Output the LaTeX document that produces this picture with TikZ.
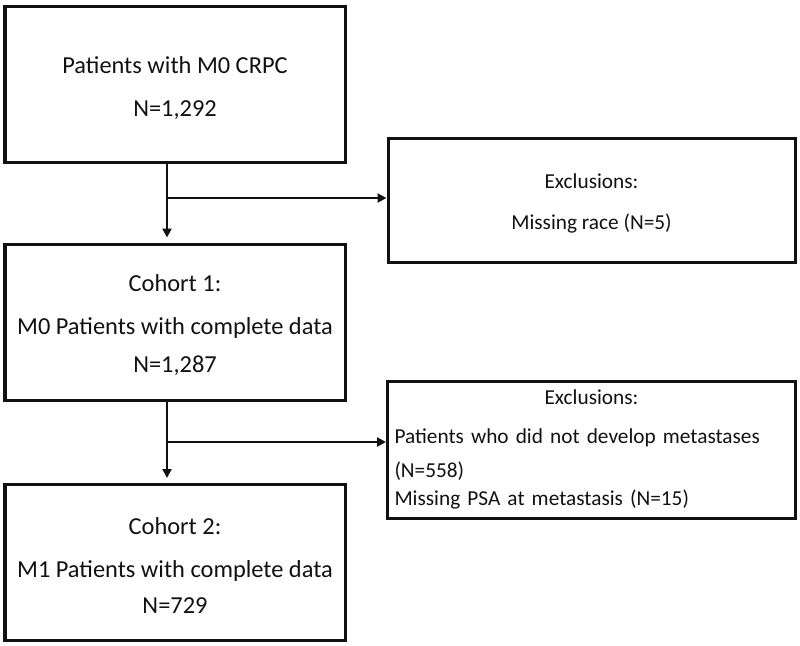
\documentclass[tikz,border=0pt]{standalone}
\usepackage{fontspec}
\setmainfont{Carlito}
\usepackage{tikz}
\usetikzlibrary{calc,arrows.meta}
\definecolor{ink}{HTML}{111111}
\tikzset{
  box/.style={draw=ink, line width=1.5pt, inner sep=0pt, align=center, text=ink},
  mainbox/.style={box, minimum width=170pt, minimum height=78pt,
    font=\fontsize{12.2}{14.4}\selectfont},
  exbox/.style={box, minimum width=203.5pt,
    font=\fontsize{10.65}{12.8}\selectfont},
  link/.style={draw=ink, line width=1.2pt},
  arr/.style={link, -{Triangle[length=4.5pt,width=4.5pt]}},
  down/.style={arr, shorten >=2.5pt},
}
\begin{document}
\begin{tikzpicture}[x=0.5pt,y=-0.5pt]
  \useasboundingbox (0,0) rectangle (800,645);

  \node[mainbox] (all) at (175,84)
    {\rule{0pt}{12.5pt}Patients with M0 CRPC\\[7pt] N=1,292};
  \node[mainbox] (coh1) at (175,322)
    {\rule{0pt}{11.5pt}Cohort 1:\\[7pt] M0 Patients with complete data\\[4.6pt] N=1,287};
  \node[mainbox] (coh2) at (175,562.5)
    {\rule{0pt}{11.5pt}Cohort 2:\\[7pt] M1 Patients with complete data\\[4pt] N=729};

  \node[exbox, minimum height=62pt] (ex1) at (591.5,200)
    {\rule{0pt}{11pt}Exclusions:\\[7.7pt] Missing race (N=5)};
  \node[exbox, minimum height=68.5pt, align=left, text width=197pt,
    inner xsep=3.5pt] (ex2) at (591.5,449.5)
    {\makebox[197pt]{Exclusions:}\\[6.7pt]
     Patients who did not develop metastases\\[4.2pt]
     (N=558)\\[1.2pt]
     Missing PSA at metastasis (N=15)};

  \coordinate (j1) at (167,198);
  \coordinate (j2) at (167,442);

  \draw[link] (all.south -| j1) -- (j1);
  \draw[down] (j1) -- (coh1.north -| j1);
  \draw[arr] (j1) -- (ex1.west |- j1);

  \draw[link] (coh1.south -| j2) -- (j2);
  \draw[down] (j2) -- (coh2.north -| j2);
  \draw[arr] (j2) -- (ex2.west |- j2);
\end{tikzpicture}
\end{document}
